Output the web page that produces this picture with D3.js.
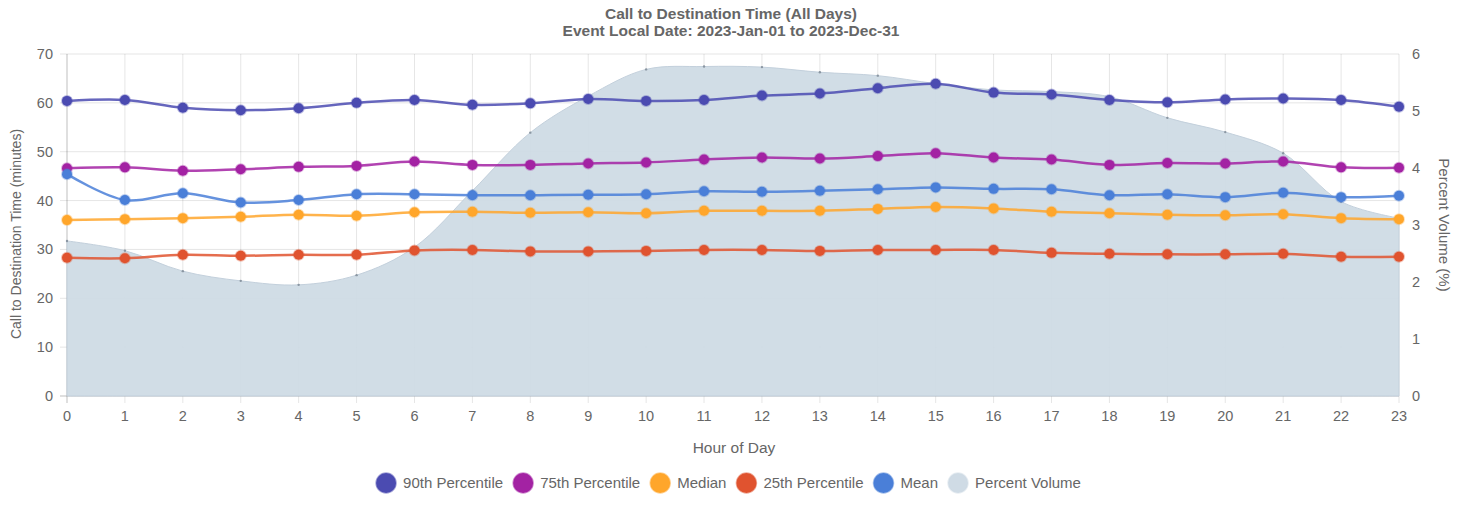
<!DOCTYPE html>
<html>
<head>
  <title>Call to Destination Time</title>
  <script src="https://cdn.jsdelivr.net/npm/d3@7/dist/d3.min.js"></script>
  <style>
    body { margin: 0; background: #fff; }
    text { font-family: "Liberation Sans", Arial, sans-serif; fill: #666; }
  </style>
</head>
<body>
  <svg width="1469" height="506"></svg>
<script>

const hours = d3.range(0, 24);

const p90 = [60.4, 60.6, 59.0, 58.5, 58.9, 60.0, 60.6, 59.6, 59.9, 60.8, 60.4, 60.6,
             61.5, 61.9, 63.0, 63.9, 62.1, 61.7, 60.6, 60.1, 60.7, 60.9, 60.6, 59.2];
const p75 = [46.6, 46.8, 46.1, 46.4, 46.9, 47.1, 48.0, 47.3, 47.3, 47.6, 47.8, 48.4,
             48.8, 48.6, 49.1, 49.7, 48.8, 48.4, 47.3, 47.7, 47.6, 48.0, 46.8, 46.7];
const median = [36.0, 36.2, 36.4, 36.7, 37.1, 36.9, 37.6, 37.7, 37.5, 37.6, 37.4, 37.9,
                37.9, 37.9, 38.3, 38.7, 38.4, 37.7, 37.4, 37.1, 37.0, 37.2, 36.4, 36.2];
const p25 = [28.3, 28.2, 28.9, 28.7, 28.9, 28.9, 29.8, 29.9, 29.6, 29.6, 29.7, 29.9,
             29.9, 29.7, 29.9, 29.9, 29.9, 29.3, 29.1, 29.0, 29.0, 29.1, 28.5, 28.5];
const mean = [45.4, 40.1, 41.5, 39.6, 40.1, 41.3, 41.3, 41.1, 41.1, 41.2, 41.3, 41.9,
              41.8, 42.0, 42.3, 42.7, 42.4, 42.3, 41.1, 41.3, 40.7, 41.6, 40.7, 41.0];
const volume = [2.72, 2.55, 2.19, 2.02, 1.95, 2.12, 2.61, 3.6, 4.62, 5.26, 5.73, 5.78,
                5.77, 5.68, 5.62, 5.48, 5.37, 5.34, 5.25, 4.88, 4.63, 4.26, 3.41, 3.12];

const leftTicks = [0, 10, 20, 30, 40, 50, 60, 70];
const rightTicks = [0, 1, 2, 3, 4, 5, 6];

const series = [
  { name: '90th Percentile', values: p90, color: '#4b4bb1' },
  { name: '75th Percentile', values: p75, color: '#a322a3' },
  { name: 'Median', values: median, color: '#ffa62b' },
  { name: '25th Percentile', values: p25, color: '#e0532f' },
  { name: 'Mean', values: mean, color: '#4a7fd8' }
];
const areaColor = '#cfdbe5';

const svg = d3.select('svg');
const plotLeft = 67, plotRight = 1399, plotTop = 54, plotBottom = 396;

let x = d3.scaleLinear().domain([0, 23]).range([plotLeft, plotRight]);
let y = d3.scaleLinear().domain([0, 70]).range([plotBottom, plotTop]);
let y2 = d3.scaleLinear().domain([0, 6]).range([plotBottom, plotTop]);

// grid
let grid = svg.append('g');
hours.forEach(h => {
  grid.append('line')
    .attr('x1', x(h)).attr('x2', x(h))
    .attr('y1', plotTop).attr('y2', plotBottom + 7)
    .style('stroke', h === 0 ? 'rgba(0,0,0,0.25)' : 'rgba(0,0,0,0.1)');
});
leftTicks.forEach(t => {
  grid.append('line')
    .attr('x1', plotLeft - 7).attr('x2', plotRight)
    .attr('y1', y(t)).attr('y2', y(t))
    .style('stroke', t === 0 ? 'rgba(0,0,0,0.25)' : 'rgba(0,0,0,0.1)');
});

// percent volume area
let area = d3.area()
  .x((d, i) => x(hours[i]))
  .y0(plotBottom)
  .y1(d => y2(d))
  .curve(d3.curveCatmullRom.alpha(0.5));

svg.append('path')
  .datum(volume)
  .attr('d', area)
  .style('fill', areaColor)
  .style('fill-opacity', 0.95)
  .style('stroke', '#c3d0dc')
  .style('stroke-width', 1);

svg.append('g').selectAll('circle')
  .data(volume)
  .join('circle')
  .attr('cx', (d, i) => x(hours[i]))
  .attr('cy', d => y2(d))
  .attr('r', 1.2)
  .style('fill', '#8a96a2');

// lines
let line = d3.line()
  .x((d, i) => x(hours[i]))
  .y(d => y(d))
  .curve(d3.curveCatmullRom.alpha(0.5));

series.forEach(s => {
  let g = svg.append('g');
  g.append('path')
    .datum(s.values)
    .attr('d', line)
    .style('fill', 'none')
    .style('stroke', s.color)
    .style('stroke-width', 2.5)
    .style('stroke-opacity', 0.85);
  g.selectAll('circle')
    .data(s.values)
    .join('circle')
    .attr('cx', (d, i) => x(hours[i]))
    .attr('cy', d => y(d))
    .attr('r', 5)
    .style('fill', s.color)
    .style('stroke', s.color)
    .style('stroke-opacity', 0.35)
    .style('stroke-width', 2);
});

// axes labels
let ticks = svg.append('g').style('font-size', '14.5px');
leftTicks.forEach(t => {
  ticks.append('text')
    .attr('x', 53).attr('y', y(t) + 5)
    .attr('text-anchor', 'end')
    .text(t);
});
rightTicks.forEach(t => {
  ticks.append('text')
    .attr('x', 1412).attr('y', y2(t) + 5)
    .text(t);
});
hours.forEach(h => {
  ticks.append('text')
    .attr('x', x(h)).attr('y', 421)
    .attr('text-anchor', 'middle')
    .text(h);
});

svg.append('text')
  .attr('transform', 'translate(21,234) rotate(-90)')
  .attr('text-anchor', 'middle')
  .style('font-size', '14px')
  .text('Call to Destination Time (minutes)');

svg.append('text')
  .attr('transform', 'translate(1439,225) rotate(90)')
  .attr('text-anchor', 'middle')
  .style('font-size', '15px')
  .text('Percent Volume (%)');

svg.append('text')
  .attr('x', 734).attr('y', 453)
  .attr('text-anchor', 'middle')
  .style('font-size', '15.5px')
  .text('Hour of Day');

// title
svg.append('text')
  .attr('x', 731).attr('y', 19)
  .attr('text-anchor', 'middle')
  .style('font-size', '15.5px').style('font-weight', 'bold')
  .text('Call to Destination Time (All Days)');
svg.append('text')
  .attr('x', 731).attr('y', 36)
  .attr('text-anchor', 'middle')
  .style('font-size', '15.5px').style('font-weight', 'bold')
  .text('Event Local Date: 2023-Jan-01 to 2023-Dec-31');

// legend
let legendItems = series.map(s => ({ name: s.name, color: s.color }))
  .concat([{ name: 'Percent Volume', color: areaColor }]);
let legend = svg.append('g');
let cursor = 0;
legendItems.forEach(item => {
  let g = legend.append('g').attr('transform', 'translate(' + cursor + ',0)');
  g.append('circle')
    .attr('cx', 10).attr('cy', 0).attr('r', 10)
    .style('fill', item.color)
    .style('stroke', item.color)
    .style('stroke-opacity', 0.5)
    .style('stroke-width', 1.5);
  let t = g.append('text')
    .attr('x', 27).attr('y', 5)
    .style('font-size', '15px')
    .text(item.name);
  cursor += 27 + t.node().getComputedTextLength() + 10;
});
cursor -= 10;
legend.attr('transform', 'translate(' + (728.5 - cursor / 2) + ',483)');

</script>
</body>
</html>
